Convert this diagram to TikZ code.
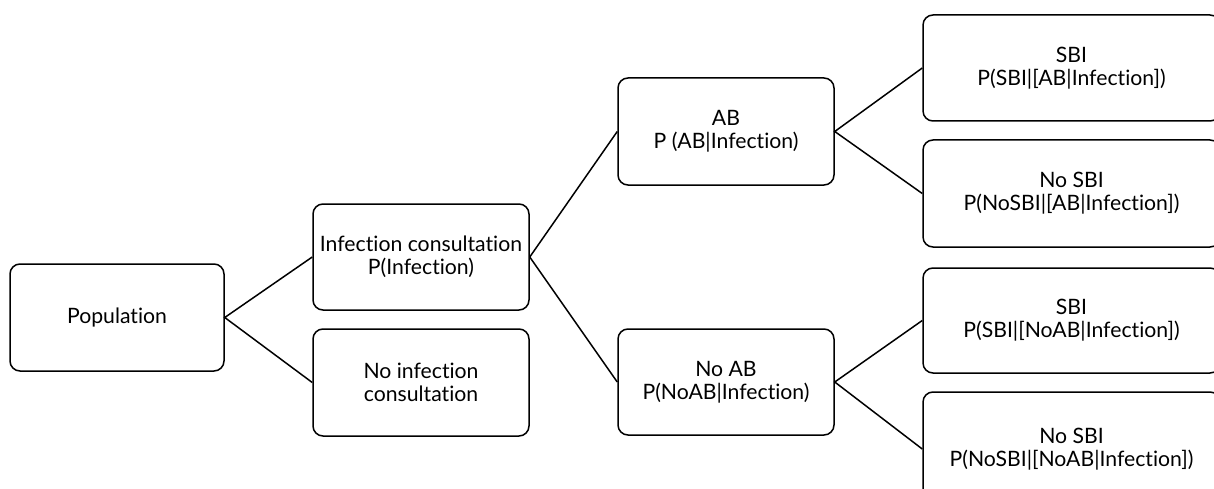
\documentclass[tikz,border=0pt]{standalone}
\usepackage{fontspec}
\setmainfont[Ligatures=NoCommon]{Lato}
\begin{document}
\begin{tikzpicture}[x=1pt,y=-1pt,
  box/.style={draw,line width=1.5pt,rounded corners=10pt,align=center,inner sep=0pt,
    font=\fontsize{21.2}{23}\selectfont},
  link/.style={line width=1.5pt}]
\useasboundingbox (0,0) rectangle (1214,489);
\node[box,minimum width=214pt,minimum height=107pt] (pop) at (117,317.5) {Population};
\node[box,minimum width=216pt,minimum height=106pt] (inf) at (421,257) {Infection consultation\\P(Infection)};
\node[box,minimum width=216pt,minimum height=107pt] (noinf) at (421,382.5) {No infection\\consultation};
\node[box,minimum width=216pt,minimum height=107pt] (ab) at (726,131.5) {AB\\P (AB|Infection)};
\node[box,minimum width=216pt,minimum height=106pt] (noab) at (726,382) {No AB\\P(NoAB|Infection)};
\node[box,minimum width=297pt,minimum height=106pt] (sbi1) at (1071.5,68) {SBI\\P(SBI|[AB|Infection])};
\node[box,minimum width=297pt,minimum height=107pt] (nosbi1) at (1071.5,193.5) {No SBI\\P(NoSBI|[AB|Infection])};
\node[box,minimum width=297pt,minimum height=105pt] (sbi2) at (1071.5,320.5) {SBI\\P(SBI|[NoAB|Infection])};
\node[box,minimum width=297pt,minimum height=114pt] (nosbi2) at (1071.5,449) {No SBI\\P(NoSBI|[NoAB|Infection])};
\draw[link] (inf.west) -- (pop.east) -- (noinf.west);
\draw[link] (ab.west) -- (inf.east) -- (noab.west);
\draw[link] (sbi1.west) -- (ab.east) -- (nosbi1.west);
\draw[link] (sbi2.west) -- (noab.east) -- (nosbi2.west);
\end{tikzpicture}
\end{document}
